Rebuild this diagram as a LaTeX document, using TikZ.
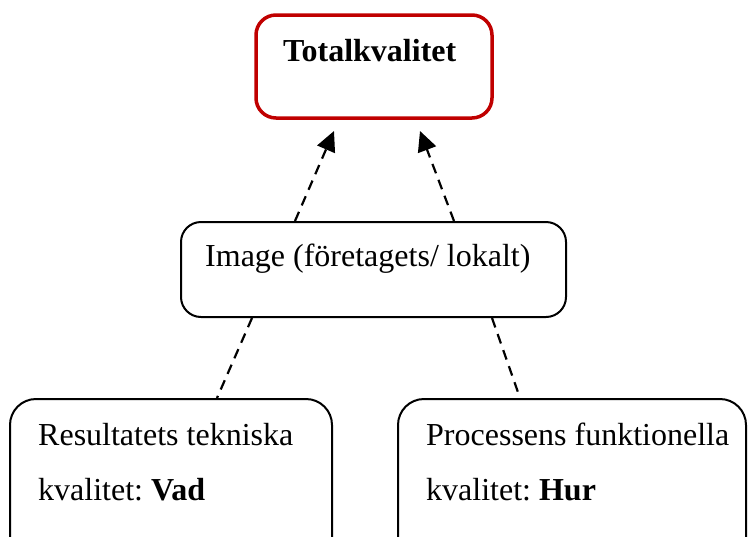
\documentclass[tikz,border=0pt]{standalone}
\usepackage{fontspec}
\setmainfont{Liberation Serif}
\usetikzlibrary{arrows.meta}
\definecolor{boxred}{HTML}{C00000}
\frenchspacing
\begin{document}
\begin{tikzpicture}[x=1pt,y=-1pt,
  box/.style={draw=black, line width=2pt, rounded corners=20pt, inner sep=0pt},
  redbox/.style={draw=boxred, line width=3.5pt, rounded corners=20pt, inner sep=0pt},
  txt/.style={anchor=base west, inner sep=0pt, font=\fontsize{32}{38}\selectfont},
  conn/.style={line width=2.2pt, dash pattern=on 10pt off 7pt},
  arr/.style={conn, -{Triangle[length=20pt,width=19pt]}}]
\useasboundingbox (0,0) rectangle (749,536);
\node[redbox, minimum width=236pt, minimum height=103pt] (top) at (374,66.5) {};
\node[box, minimum width=385pt, minimum height=95pt] (mid) at (373.5,269.5) {};
\node[box, rounded corners=26pt, minimum width=322pt, minimum height=170pt] (left) at (171,484) {};
\node[box, rounded corners=26pt, minimum width=348pt, minimum height=170pt] (right) at (572,484) {};
\node[txt] (ttop) at (283,61) {\textbf{Totalkvalitet}};
\node[txt] (tmid) at (205,266) {Image (företagets/ lokalt)};
\node[txt] (tl1) at (38,445) {Resultatets tekniska};
\node[txt] (tl2) at (38,500) {kvalitet: \textbf{Vad}};
\node[txt] (tr1) at (426,445) {Processens funktionella};
\node[txt] (tr2) at (426,500) {kvalitet: \textbf{Hur}};
\coordinate (s1) at (295,221);
\coordinate (e1) at (334,131);
\coordinate (s2) at (454,221);
\coordinate (e2) at (420,131);
\coordinate (s3) at (252,318);
\coordinate (e3) at (217,398);
\coordinate (s4) at (492,318);
\coordinate (e4) at (520,398);
\draw[arr] (s1) -- (e1);
\draw[arr] (s2) -- (e2);
\draw[conn] (s3) -- (e3);
\draw[conn] (s4) -- (e4);
\end{tikzpicture}
\end{document}
